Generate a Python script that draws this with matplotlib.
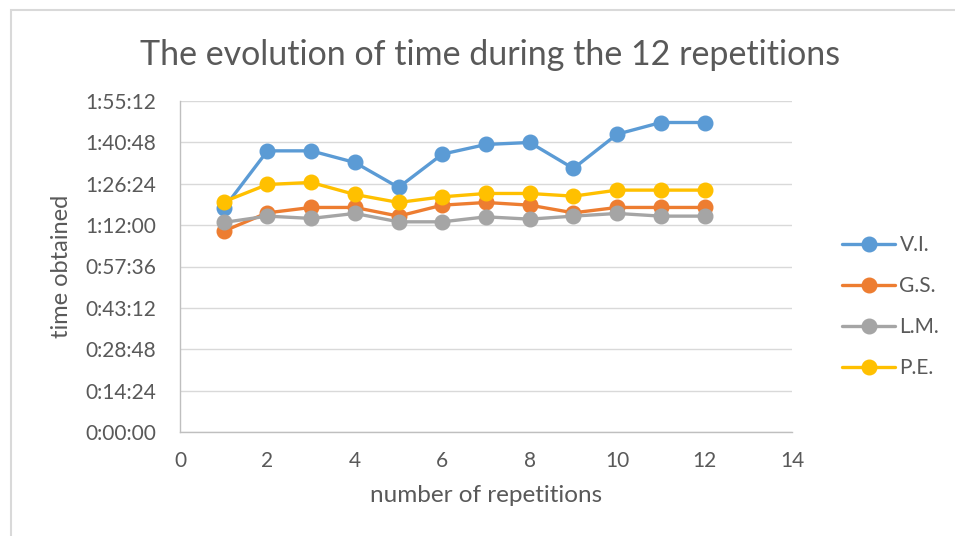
import matplotlib
matplotlib.use("Agg")
import matplotlib.pyplot as plt
from matplotlib.ticker import FuncFormatter, MultipleLocator
from matplotlib.patches import Rectangle

plt.rcParams['font.family'] = ['Lato', 'DejaVu Sans']

repetitions = list(range(1, 13))
vi = ["1:17:49", "1:37:51", "1:37:51", "1:33:48", "1:25:07", "1:36:42",
      "1:40:04", "1:40:46", "1:31:43", "1:43:39", "1:47:43", "1:47:43"]
gs = ["1:09:55", "1:16:17", "1:18:09", "1:18:09", "1:15:08", "1:18:57",
      "1:19:53", "1:18:57", "1:16:17", "1:18:09", "1:18:09", "1:18:09"]
lm = ["1:12:56", "1:15:08", "1:14:20", "1:16:04", "1:13:09", "1:13:09",
      "1:14:53", "1:14:05", "1:15:08", "1:16:04", "1:15:08", "1:15:08"]
pe = ["1:20:07", "1:26:09", "1:26:51", "1:22:40", "1:19:53", "1:21:51",
      "1:23:01", "1:23:01", "1:22:05", "1:24:11", "1:24:11", "1:24:11"]
series_names = ["V.I.", "G.S.", "L.M.", "P.E."]
colors = ["#5B9BD5", "#ED7D31", "#A5A5A5", "#FFC000"]


def to_sec(s):
    h, m, sec = (int(p) for p in s.split(":"))
    return h * 3600 + m * 60 + sec


def fmt(v, pos):
    v = int(round(v))
    return f"{v // 3600}:{(v % 3600) // 60:02d}:{v % 60:02d}"


W, H = 955, 536
fig = plt.figure(figsize=(W / 100, H / 100), dpi=100)
ax = fig.add_axes([180 / W, 1 - 432 / H, (792 - 180) / W, (432 - 101) / H])

for name, vals, c in zip(series_names, [vi, gs, lm, pe], colors):
    ax.plot(repetitions, [to_sec(v) for v in vals], color=c, lw=2.4,
            marker='o', markersize=10.5, label=name, solid_capstyle='round')

ax.set_xlim(0, 14)
ax.set_ylim(0, 6912)
ax.xaxis.set_major_locator(MultipleLocator(2))
ax.yaxis.set_major_locator(MultipleLocator(864))
ax.yaxis.set_major_formatter(FuncFormatter(fmt))
ax.grid(axis='y', color='#D9D9D9', lw=1)
ax.set_axisbelow(True)
for s in ['top', 'right']:
    ax.spines[s].set_visible(False)
for s in ['left', 'bottom']:
    ax.spines[s].set_color('#BFBFBF')
    ax.spines[s].set_linewidth(1)
ax.tick_params(length=0, labelsize=15, labelcolor='#595959')
ax.tick_params(axis='y', pad=17)
ax.tick_params(axis='x', pad=14)

ax.set_xlabel("number of repetitions", fontsize=17.5, color='#595959', labelpad=10)
ax.set_ylabel("time obtained", fontsize=17, color='#595959', labelpad=10)
fig.text(490 / W, 1 - 55 / H, "The evolution of time during the 12 repetitions",
         ha='center', va='center', fontsize=24.5, color='#595959')

leg = ax.legend(loc='center left', bbox_to_anchor=(1.082, 0.379), frameon=False,
                fontsize=15, labelcolor='#595959', handlelength=2.55,
                labelspacing=1.0, handletextpad=0.2, borderpad=0, borderaxespad=0)

fig.patches.append(Rectangle((11 / W, -0.1), 1.1, 1.1 - 10 / H, transform=fig.transFigure,
                             fill=False, edgecolor='#D9D9D9', lw=1.5))

fig.savefig("out.png", dpi=100)
